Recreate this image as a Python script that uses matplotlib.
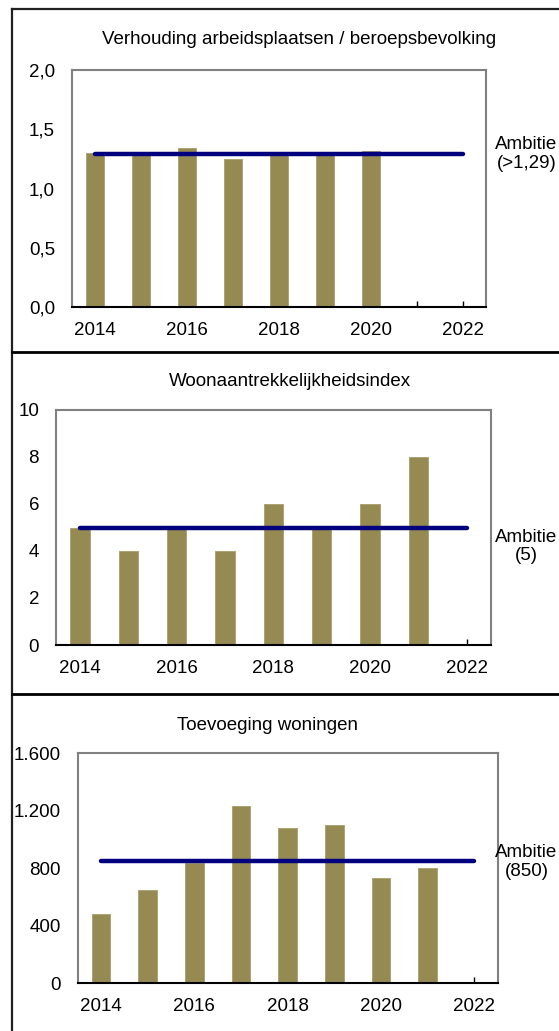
import matplotlib.pyplot as plt
from matplotlib.lines import Line2D

plt.rcParams['font.family'] = ['Liberation Sans', 'DejaVu Sans']

years = [2014, 2015, 2016, 2017, 2018, 2019, 2020, 2021, 2022]
year_labels = ['2014', '', '2016', '', '2018', '', '2020', '', '2022']

# Verhouding arbeidsplaatsen / beroepsbevolking
ratio_years = [2014, 2015, 2016, 2017, 2018, 2019, 2020]
ratio_vals = [1.30, 1.30, 1.34, 1.25, 1.28, 1.28, 1.32]
ratio_goal = 1.29
ratio_ticks = [0.0, 0.5, 1.0, 1.5, 2.0]
ratio_ticklabels = ['0,0', '0,5', '1,0', '1,5', '2,0']

# Woonaantrekkelijkheidsindex
index_years = [2014, 2015, 2016, 2017, 2018, 2019, 2020, 2021]
index_vals = [5, 4, 5, 4, 6, 5, 6, 8]
index_goal = 5
index_ticks = [0, 2, 4, 6, 8, 10]
index_ticklabels = ['0', '2', '4', '6', '8', '10']

# Toevoeging woningen
homes_years = [2014, 2015, 2016, 2017, 2018, 2019, 2020, 2021]
homes_vals = [480, 650, 840, 1230, 1080, 1100, 730, 800]
homes_goal = 850
homes_ticks = [0, 400, 800, 1200, 1600]
homes_ticklabels = ['0', '400', '800', '1.200', '1.600']

BAR = '#968a53'
NAVY = '#00007f'
FS = 13.5

W, H = 559, 1031
fig = plt.figure(figsize=(W / 100, H / 100), dpi=100)


def fx(px):
    return px / W


def fy(py):
    return 1 - py / H


panels = [
    # (box px: left, top, right, bottom), data, title, title pos, ambitie text, ambitie pos
    ((71.7, 70, 485.7, 307.3), ratio_years, ratio_vals, ratio_goal, ratio_ticks, ratio_ticklabels,
     'Verhouding arbeidsplaatsen / beroepsbevolking', (298.6, 39.3), 'Ambitie\n(>1,29)', (526.5, 154)),
    ((55.7, 410, 491, 645), index_years, index_vals, index_goal, index_ticks, index_ticklabels,
     'Woonaantrekkelijkheidsindex', (289.7, 381.7), 'Ambitie\n(5)', (526.5, 546.4)),
    ((77.7, 753.3, 497.7, 983.3), homes_years, homes_vals, homes_goal, homes_ticks, homes_ticklabels,
     'Toevoeging woningen', (267.8, 725), 'Ambitie\n(850)', (526.5, 862)),
]

for box, xs, vals, goal, yt, ytl, title, tpos, amb, apos in panels:
    l, t, r, b = box
    ax = fig.add_axes([fx(l), fy(b), fx(r) - fx(l), fy(t) - fy(b)])
    ax.bar(xs, vals, width=0.4, color=BAR, edgecolor='#a89d6c', linewidth=0.6, zorder=2)
    ax.plot([years[0], years[-1]], [goal, goal], color=NAVY, lw=3.2,
            solid_capstyle='round', zorder=3)
    ax.set_xlim(2013.5, 2022.5)
    ax.set_ylim(yt[0], yt[-1])
    ax.set_xticks(years)
    ax.set_xticklabels(year_labels)
    ax.set_yticks(yt)
    ax.set_yticklabels(ytl)
    ax.tick_params(axis='x', direction='in', length=4, width=1, pad=10.5, labelsize=FS)
    ax.tick_params(axis='y', length=0, pad=12, labelsize=FS)
    for side in ['left', 'top', 'right']:
        ax.spines[side].set_color('#808080')
        ax.spines[side].set_linewidth(1.5)
    ax.spines['bottom'].set_color('black')
    ax.spines['bottom'].set_linewidth(1.5)
    fig.text(fx(tpos[0]), fy(tpos[1]), title, ha='center', va='center', fontsize=FS)
    fig.text(fx(apos[0]), fy(apos[1]), amb, ha='center', va='center',
             multialignment='center', fontsize=FS, linespacing=1.1)

# outer frame and separators
frame = dict(color='#202020', lw=1.6, transform=fig.transFigure)
fig.add_artist(Line2D([fx(11.7), fx(11.7)], [fy(9.3), 0], **frame))
fig.add_artist(Line2D([fx(11.7), 1], [fy(9.3), fy(9.3)], **frame))
fig.add_artist(Line2D([fx(11.7), 1], [fy(352), fy(352)], color='black', lw=2,
                      transform=fig.transFigure))
fig.add_artist(Line2D([fx(11.7), 1], [fy(694), fy(694)], color='black', lw=2,
                      transform=fig.transFigure))

fig.savefig('out.png', dpi=100)
